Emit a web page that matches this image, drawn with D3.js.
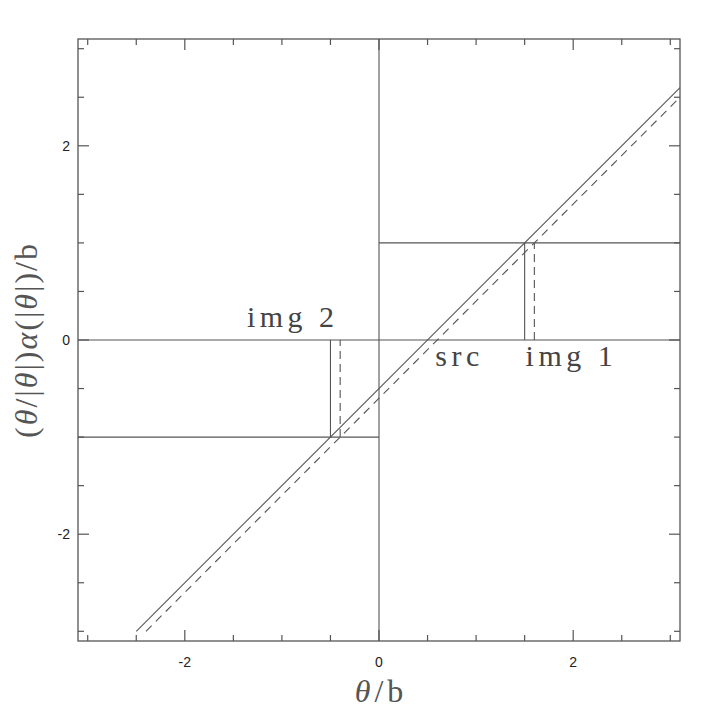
<!DOCTYPE html>
<html><head><meta charset="utf-8">
<script src="https://cdn.jsdelivr.net/npm/d3@7"></script>
<style>body{margin:0;background:#fff}svg{display:block}</style>
</head><body>
<script>
const xDomain = [-3.1, 3.1];
const yDomain = [-3.1, 3.1];
const majorTicks = [-2, 0, 2];
const minorTicks = [-3, -2.5, -2, -1.5, -1, -0.5, 0, 0.5, 1, 1.5, 2, 2.5, 3];
// solid lens line y = x - 0.5, dashed y = x - 0.6
const solidLine = [[-2.5, -3.0], [3.1, 2.6]];
const dashedLine = [[-2.4, -3.0], [3.1, 2.5]];
// reference segments (solid)
const guideSegments = [
  [[0, -3.1], [0, 3.1]],
  [[-3.1, 0], [3.1, 0]],
  [[0, 1], [3.1, 1]],
  [[-3.1, -1], [0, -1]],
  [[1.5, 0], [1.5, 1]],
  [[-0.5, -1], [-0.5, 0]]
];
const dashedSegments = [
  [[1.6, 0], [1.6, 1]],
  [[-0.4, -1], [-0.4, 0]]
];
const labels = [
  {text: "img 2", x: -1.36, y: 0.13},
  {text: "src", x: 0.58, y: -0.27},
  {text: "img 1", x: 1.51, y: -0.27}
];

const W = 718, H = 718;
const m = {l: 78, r: 38, t: 39, b: 77};
const svg = d3.select("body").append("svg").attr("width", W).attr("height", H);
const x = d3.scaleLinear().domain(xDomain).range([m.l, W - m.r]);
const y = d3.scaleLinear().domain(yDomain).range([H - m.b, m.t]);
const col = "#555";
const g = svg.append("g");
const line = d3.line().x(d => x(d[0])).y(d => y(d[1]));
const serif = "Liberation Serif, Times New Roman, serif";

// frame
g.append("rect").attr("x", x(xDomain[0])).attr("y", y(yDomain[1]))
  .attr("width", x(xDomain[1]) - x(xDomain[0])).attr("height", y(yDomain[0]) - y(yDomain[1]))
  .attr("fill", "none").attr("stroke", col).attr("stroke-width", 1.3);

// ticks (inward, all four sides)
const tk = g.append("g").attr("stroke", col).attr("stroke-width", 1.2);
minorTicks.forEach(v => {
  const len = majorTicks.includes(v) ? 11 : 6;
  tk.append("line").attr("x1", x(v)).attr("x2", x(v)).attr("y1", y(yDomain[0])).attr("y2", y(yDomain[0]) - len);
  tk.append("line").attr("x1", x(v)).attr("x2", x(v)).attr("y1", y(yDomain[1])).attr("y2", y(yDomain[1]) + len);
  tk.append("line").attr("y1", y(v)).attr("y2", y(v)).attr("x1", x(xDomain[0])).attr("x2", x(xDomain[0]) + len);
  tk.append("line").attr("y1", y(v)).attr("y2", y(v)).attr("x1", x(xDomain[1])).attr("x2", x(xDomain[1]) - len);
});

// tick labels
const fmt = v => v === 0 ? "0" : (v < 0 ? "-" + Math.abs(v) : String(v));
const tl = g.append("g").attr("font-family", "Liberation Sans, Arial, sans-serif").attr("font-size", 14).attr("fill", "#222");
majorTicks.forEach(v => {
  tl.append("text").attr("x", x(v)).attr("y", y(yDomain[0]) + 26).attr("text-anchor", "middle").text(fmt(v));
  tl.append("text").attr("x", x(xDomain[0]) - 8).attr("y", y(v) + 5).attr("text-anchor", "end").text(fmt(v));
});

// guide segments
guideSegments.forEach(s => g.append("path").attr("d", line(s)).attr("stroke", col).attr("stroke-width", 1.1).attr("fill", "none"));
dashedSegments.forEach(s => g.append("path").attr("d", line(s)).attr("stroke", col).attr("stroke-width", 1.1).attr("stroke-dasharray", "8,5").attr("fill", "none"));

// lens lines
g.append("path").attr("d", line(solidLine)).attr("stroke", col).attr("stroke-width", 1.1).attr("fill", "none");
g.append("path").attr("d", line(dashedLine)).attr("stroke", col).attr("stroke-width", 1.1).attr("stroke-dasharray", "8,6").attr("fill", "none");

// labels
labels.forEach(l => g.append("text").attr("x", x(l.x)).attr("y", y(l.y))
  .attr("font-family", serif).attr("font-size", 30).attr("fill", "#444")
  .attr("letter-spacing", 4.5)
  .attr("xml:space", "preserve").style("white-space", "pre").text(l.text));

// axis titles
const xt = g.append("text").attr("x", x(0) + 2).attr("y", 702).attr("text-anchor", "middle")
  .attr("font-family", serif).attr("font-size", 32).attr("fill", "#555").attr("letter-spacing", 4);
xt.append("tspan").attr("font-style", "italic").text("θ");
xt.append("tspan").text("/b");

const yt = g.append("text").attr("transform", `translate(37,${y(0)}) rotate(-90)`).attr("text-anchor", "middle")
  .attr("font-family", serif).attr("font-size", 32).attr("fill", "#555").attr("letter-spacing", 2);
yt.append("tspan").text("(");
yt.append("tspan").attr("font-style", "italic").text("θ");
yt.append("tspan").text("/|");
yt.append("tspan").attr("font-style", "italic").text("θ");
yt.append("tspan").text("|)");
yt.append("tspan").attr("font-style", "italic").text("α");
yt.append("tspan").text("(|");
yt.append("tspan").attr("font-style", "italic").text("θ");
yt.append("tspan").text("|)/b");
</script>
</body></html>
